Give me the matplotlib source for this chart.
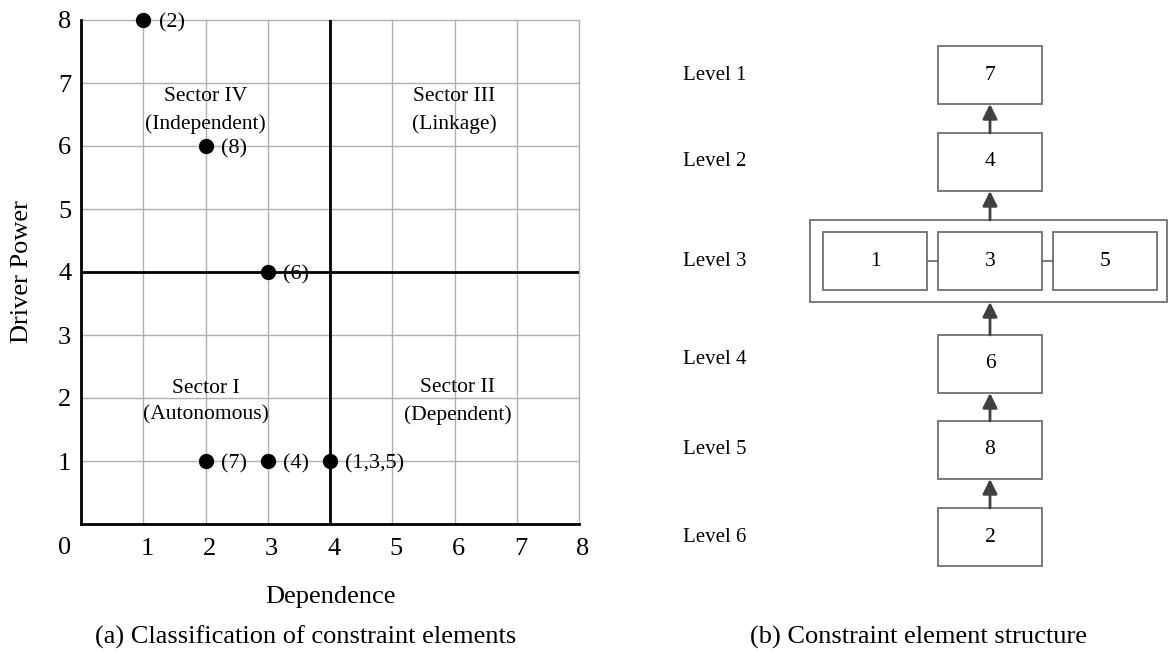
import matplotlib
matplotlib.use("Agg")
import matplotlib.pyplot as plt
from matplotlib.patches import Rectangle
from matplotlib.transforms import ScaledTranslation

plt.rcParams['font.family'] = ['Liberation Serif', 'DejaVu Serif']

# element classification (dependence, driver power)
dependence = [1, 2, 3, 2, 3, 4]
driver_power = [8, 6, 4, 1, 1, 1]
point_labels = ["(2)", "(8)", "(6)", "(7)", "(4)", "(1,3,5)"]

sector_names = ["Sector IV\n(Independent)", "Sector III\n(Linkage)",
                "Sector I\n(Autonomous)", "Sector II\n(Dependent)"]
sector_x = [2, 6, 2, 6.05]
sector_y = [6.57, 6.57, 1.94, 1.94]

# hierarchy levels, top to bottom
level_names = ["Level 1", "Level 2", "Level 3", "Level 4", "Level 5", "Level 6"]
level_elems = [["7"], ["4"], ["1", "3", "5"], ["6"], ["8"], ["2"]]

W, H = 1168, 652
fig = plt.figure(figsize=(W / 100, H / 100), dpi=100)

# ---- (a) scatter ----
ax = fig.add_axes([81 / W, 1 - 524 / H, 498 / W, 504 / H])
ax.set_xlim(0, 8)
ax.set_ylim(0, 8)
ax.set_xticks(range(1, 9))
ax.set_yticks(range(1, 9))
ax.grid(True, color='#b0b0b0', lw=1)
ax.set_axisbelow(True)
for s in ['top', 'right']:
    ax.spines[s].set_visible(False)
for s in ['left', 'bottom']:
    ax.spines[s].set_linewidth(2)
ax.tick_params(length=0, labelsize=19)
ax.tick_params(axis='y', pad=7)
ax.tick_params(axis='x', pad=10)
shift = ScaledTranslation(4 / 100, 0, fig.dpi_scale_trans)
for lab in ax.get_xticklabels():
    lab.set_transform(lab.get_transform() + shift)
for g in ax.get_xgridlines() + ax.get_ygridlines():
    g.set_clip_on(False)

ax.axvline(4, color='black', lw=2)
ax.axhline(4, color='black', lw=2)

ax.plot(dependence, driver_power, 'o', color='black', ms=10, clip_on=False, zorder=5)
for x, y, t in zip(dependence, driver_power, point_labels):
    ax.annotate(t, (x, y), xytext=(11, -2), textcoords='offset points',
                fontsize=16, va='center', ha='left')

for t, x, y in zip(sector_names, sector_x, sector_y):
    ax.text(x, y, t, ha='center', va='center', fontsize=15.5, linespacing=1.55)

# shared origin label
ax.annotate("0", (0, 0), xytext=(-16, -24), textcoords='offset pixels',
            fontsize=19, ha='center', va='center')

fig.text(22 / W, 1 - 272 / H, "Driver Power", rotation=90, ha='center', va='center', fontsize=19)
fig.text(330 / W, 1 - 597 / H, "Dependence", ha='center', va='center', fontsize=19)
fig.text(306 / W, 1 - 637 / H, "(a) Classification of constraint elements",
         ha='center', va='center', fontsize=19)

# ---- (b) structure diagram, pixel coordinates ----
ax2 = fig.add_axes([0, 0, 1, 1])
ax2.set_xlim(0, W)
ax2.set_ylim(H, 0)
ax2.axis('off')

cx = 990
bw, bh = 104, 58
gap = 11
level_cy = [75, 162, 261, 364, 450, 537]
label_dy = [0, 0, 0, -5, 0, 0]
box_col = '#707070'
arr_col = '#404040'

for name, elems, cy, dy in zip(level_names, level_elems, level_cy, label_dy):
    ax2.text(683, cy + dy, name, ha='left', va='center', fontsize=15)
    n = len(elems)
    for i, e in enumerate(elems):
        bx = cx + (i - (n - 1) / 2) * (bw + gap)
        ax2.add_patch(Rectangle((bx - bw / 2, cy - bh / 2), bw, bh,
                                fill=False, ec=box_col, lw=1.3))
        ax2.text(bx, cy, e, ha='center', va='center', fontsize=15.5)
        if i > 0:
            ax2.plot([bx - bw / 2 - gap, bx - bw / 2], [cy, cy], color=box_col, lw=1.3)
    if n > 1:
        ax2.add_patch(Rectangle((810, cy - 41), 357, 82, fill=False, ec=box_col, lw=1.3))

# arrows between consecutive levels (lower -> upper)
def box_top(k):
    return level_cy[k] - (41 if len(level_elems[k]) > 1 else bh / 2)

def box_bottom(k):
    return level_cy[k] + (41 if len(level_elems[k]) > 1 else bh / 2)

for k in range(len(level_cy) - 1):
    ax2.annotate("", xy=(cx, box_bottom(k)), xytext=(cx, box_top(k + 1)),
                 arrowprops=dict(arrowstyle='-|>', color=arr_col, lw=2,
                                 mutation_scale=22, shrinkA=0, shrinkB=0))

fig.text(918 / W, 1 - 637 / H, "(b) Constraint element structure",
         ha='center', va='center', fontsize=19)

fig.savefig("out.png", dpi=100)
